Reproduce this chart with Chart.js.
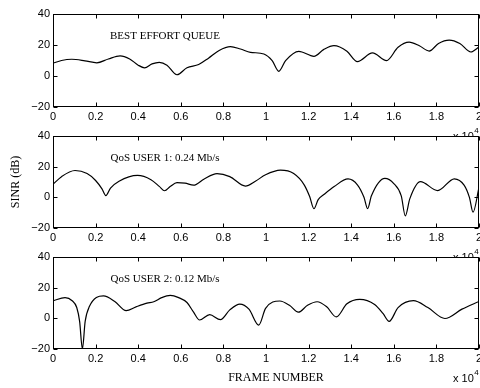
<!DOCTYPE html>
<html>
<head>
<meta charset="utf-8">
<title>SINR per frame</title>
<script src="https://cdn.jsdelivr.net/npm/chart.js@4/dist/chart.umd.min.js"></script>
<style>
  html, body { margin: 0; padding: 0; background: #fff; }
  #wrap { position: relative; width: 480px; height: 388px; }
  #wrap canvas { position: absolute; left: 0; top: 0; }
</style>
</head>
<body>
<div id="wrap">
  <canvas id="c1" width="480" height="388"></canvas>
  <canvas id="c2" width="480" height="388"></canvas>
  <canvas id="c3" width="480" height="388"></canvas>
</div>
<script>
/* ======================================
        DATA
========================================*/
const xTicks = [0, 2000, 4000, 6000, 8000, 10000, 12000, 14000, 16000, 18000, 20000];
const yTicks = [-20, 0, 20, 40];

// best effort queue
const beFrames = [0, 400, 880, 1500, 2056, 2600, 3150, 3600, 4000, 4300, 4650, 4990, 5350, 5820, 6290, 6840, 7300, 7800, 8330, 8800, 9270, 9900, 10290, 10600, 10920, 11540, 12250, 12700, 13190, 13800, 14290, 15000, 15660, 16200, 16720, 17200, 17660, 18100, 18600, 19100, 19620, 20000];
const beSinr   = [8.2, 10.0, 10.8, 9.8, 8.5, 11.0, 13.0, 11.0, 7.0, 5.3, 7.8, 8.8, 7.0, 0.8, 5.3, 7.4, 11.5, 16.5, 18.9, 17.4, 15.3, 14.2, 9.9, 3.0, 9.9, 15.9, 12.7, 17.0, 19.6, 16.0, 9.3, 14.9, 9.9, 18.5, 21.8, 19.5, 16.1, 21.0, 23.2, 21.0, 15.5, 18.7];

// QoS user 1: 0.24 Mb/s
const q1Frames = [0, 400, 1035, 1600, 2000, 2300, 2480, 2700, 3100, 3970, 4600, 5000, 5240, 5500, 5820, 6200, 6600, 7100, 7700, 8300, 9035, 9500, 9980, 10680, 11300, 11800, 12050, 12250, 12450, 12720, 13200, 13850, 14300, 14600, 14770, 14950, 15580, 16000, 16350, 16540, 16750, 17250, 18060, 18840, 19300, 19550, 19720, 20000];
const q1Sinr   = [8.5, 13.5, 17.5, 15.5, 11.0, 5.5, 1.1, 6.0, 10.5, 14.3, 11.5, 7.0, 4.3, 7.0, 9.6, 9.3, 7.9, 12.0, 15.4, 13.5, 7.3, 10.5, 14.7, 17.7, 15.5, 8.0, 0.5, -7.4, -1.5, 1.8, 7.0, 12.0, 8.0, 0.0, -7.4, 1.0, 12.3, 9.0, 1.0, -12.1, -1.0, 10.2, 4.4, 12.1, 8.0, 0.0, -9.7, 6.5];

// QoS user 2: 0.12 Mb/s
const q2Frames = [0, 565, 900, 1115, 1250, 1380, 1510, 1700, 2370, 2900, 3435, 3900, 4410, 4730, 5100, 5505, 5900, 6290, 6600, 6885, 7355, 7860, 8300, 8770, 9200, 9660, 9980, 10650, 11100, 11520, 11950, 12400, 12850, 13300, 13800, 14400, 15100, 15500, 15780, 16200, 16920, 17600, 18400, 19200, 20000];
const q2Sinr   = [11.4, 13.5, 11.5, 7.1, -2.0, -20, -2.0, 7.5, 14.6, 11.0, 5.0, 7.5, 9.9, 10.8, 13.5, 15.0, 13.5, 10.3, 4.0, -1.1, 2.4, -0.9, 5.5, 9.3, 6.0, -4.4, 6.5, 11.3, 8.5, 4.0, 8.5, 10.8, 7.5, 0.9, 9.5, 12.4, 9.0, 3.0, -2.0, 7.0, 11.5, 7.0, -0.1, 6.0, 11.0];

/* ======================================
        BOX, INWARD TICKS AND TEXTS
========================================*/
const framePlugin = {
  id: 'frame',
  beforeDraw(chart) {
    const {ctx, chartArea: a} = chart;
    ctx.save();
    ctx.fillStyle = '#fff';
    ctx.fillRect(a.left, a.top, a.right - a.left, a.bottom - a.top);
    ctx.restore();
  },
  afterDraw(chart, args, opts) {
    const {ctx, chartArea: a, scales} = chart;
    const L = Math.round(a.left) + 0.5, R = Math.round(a.right) - 0.5;
    const T = Math.round(a.top) + 0.5, B = Math.round(a.bottom) - 0.5;
    ctx.save();
    ctx.strokeStyle = '#000';
    ctx.lineWidth = 1;
    ctx.strokeRect(L, T, R - L, B - T);
    ctx.beginPath();
    scales.x.ticks.forEach(t => {
      const px = Math.round(scales.x.getPixelForValue(t.value)) + 0.5;
      ctx.moveTo(px, T); ctx.lineTo(px, T + 4);
      ctx.moveTo(px, B); ctx.lineTo(px, B - 4);
    });
    scales.y.ticks.forEach(t => {
      const py = Math.round(scales.y.getPixelForValue(t.value)) + 0.5;
      ctx.moveTo(L, py); ctx.lineTo(L + 4, py);
      ctx.moveTo(R, py); ctx.lineTo(R - 4, py);
    });
    ctx.stroke();

    ctx.fillStyle = '#000';
    // subplot caption
    ctx.font = '11px "Liberation Serif"';
    ctx.textAlign = 'center';
    ctx.textBaseline = 'middle';
    ctx.fillText(opts.label, a.left + 112, a.top + 22.5);

    // x 10^4 multiplier
    ctx.textAlign = 'left';
    ctx.textBaseline = 'alphabetic';
    ctx.font = '11px "Liberation Sans"';
    const ex = a.right - 26;
    ctx.fillText('x 10', ex, a.bottom + 33);
    const w = ctx.measureText('x 10').width;
    ctx.font = '8px "Liberation Sans"';
    ctx.fillText('4', ex + w + 0.5, a.bottom + 26);

    if (opts.xlabel) {
      ctx.font = '12px "Liberation Serif"';
      ctx.textAlign = 'center';
      ctx.textBaseline = 'middle';
      ctx.fillText(opts.xlabel, a.left + 223, a.bottom + 29);
    }
    ctx.restore();
  }
};

function makeChart(id, frames, sinr, label, pad, xHeight, extra) {
  const data = frames.map((f, i) => ({x: f, y: sinr[i]}));
  return new Chart(document.getElementById(id), {
    type: 'line',
    data: {
      datasets: [{
        data: data,
        borderColor: '#000',
        borderWidth: 1.2,
        pointRadius: 0,
        fill: false,
        cubicInterpolationMode: 'monotone'
      }]
    },
    options: {
      responsive: false,
      animation: false,
      devicePixelRatio: 1,
      events: [],
      layout: { autoPadding: false, padding: pad },
      plugins: {
        legend: { display: false },
        tooltip: { enabled: false },
        frame: Object.assign({ label: label }, extra.frame || {})
      },
      scales: {
        x: {
          type: 'linear',
          min: 0,
          max: 20000,
          afterBuildTicks: s => { s.ticks = xTicks.map(v => ({value: v})); },
          // keep the last label from pulling the plot in: it gets cut at the edge like the original
          afterFit: s => { s.height = xHeight; s.paddingLeft = 0; s.paddingRight = 0; },
          grid: { display: false, drawTicks: false },
          border: { display: false },
          ticks: {
            color: '#000',
            padding: 3,
            maxRotation: 0,
            autoSkip: false,
            font: { family: 'Liberation Sans', size: 11 },
            callback: v => String(v / 10000)
          }
        },
        y: {
          min: -20,
          max: 40,
          afterBuildTicks: s => { s.ticks = yTicks.map(v => ({value: v})); },
          afterFit: s => { s.width = 53; s.paddingTop = 0; s.paddingBottom = 0; },
          grid: { display: false, drawTicks: false },
          border: { display: false },
          title: extra.ytitle || { display: false },
          ticks: {
            color: '#000',
            padding: 3,
            font: { family: 'Liberation Sans', size: 11 },
            callback: v => v < 0 ? '\u2212' + Math.abs(v) : String(v)
          }
        }
      }
    },
    plugins: [framePlugin]
  });
}

makeChart('c1', beFrames, beSinr, 'BEST EFFORT QUEUE',
  { top: 14, right: 1, bottom: 252, left: 0 }, 29, {});

makeChart('c2', q1Frames, q1Sinr, 'QoS USER 1: 0.24 Mb/s',
  { top: 136, right: 1, bottom: 131, left: 0 }, 29, {
    ytitle: {
      display: true,
      text: 'SINR (dB)',
      color: '#000',
      padding: { top: 9, bottom: 0 },
      font: { family: 'Liberation Serif', size: 12, weight: 'normal' }
    }
  });

makeChart('c3', q2Frames, q2Sinr, 'QoS USER 2: 0.12 Mb/s',
  { top: 257, right: 1, bottom: 0, left: 0 }, 39, {
    frame: { xlabel: 'FRAME NUMBER' }
  });
</script>
</body>
</html>
